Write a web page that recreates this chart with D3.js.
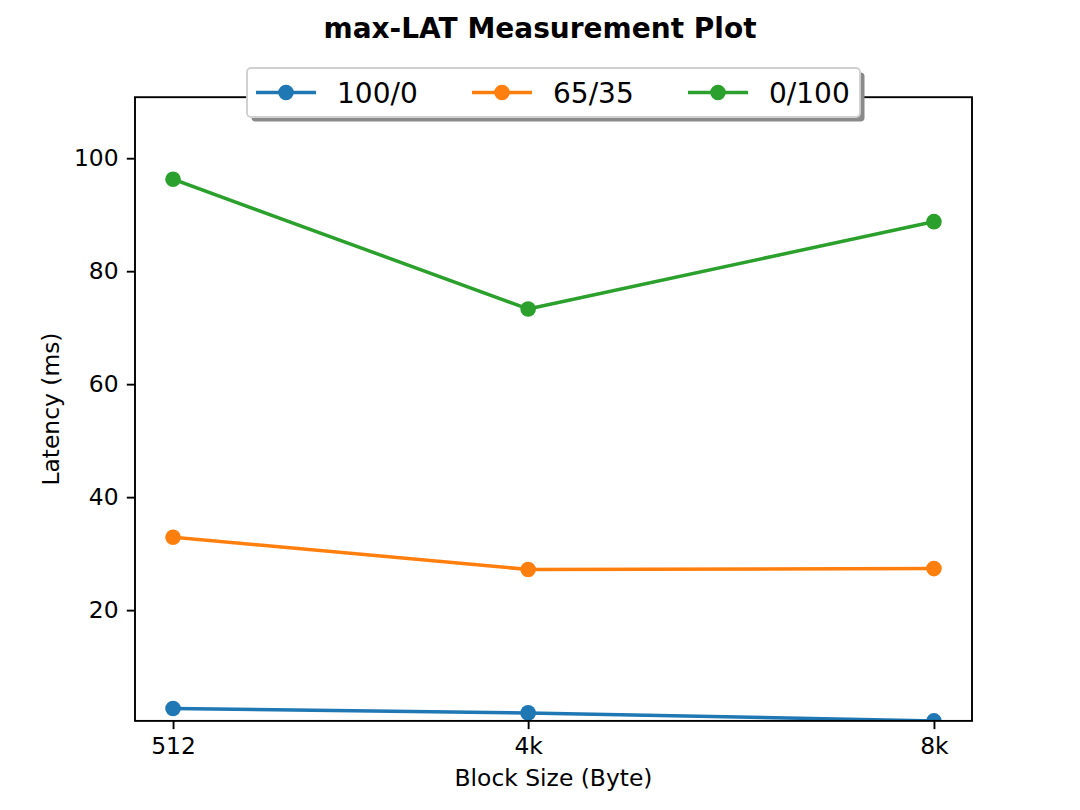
<!DOCTYPE html>
<html>
<head>
<meta charset="utf-8">
<script src="https://cdn.jsdelivr.net/npm/d3@7"></script>
<style>
  html, body { margin: 0; padding: 0; background: #fff; }
  svg { display: block; font-family: "DejaVu Sans", sans-serif; }
</style>
</head>
<body>
<svg id="chart" width="1080" height="810"></svg>
<script>
// ---- data ----
const categories = ["512", "4k", "8k"];
const blockSizes = [512, 4096, 8192];
const read100_0 = [2.58, 1.81, 0.39];
const mix65_35 = [32.9, 27.2, 27.35];
const write0_100 = [96.28, 73.31, 88.77];
const seriesNames = ["100/0", "65/35", "0/100"];
const seriesColors = ["#1f77b4", "#ff7f0e", "#2ca02c"];
const yTicks = [20, 40, 60, 80, 100];
const titleText = "max-LAT Measurement Plot";
const xLabel = "Block Size (Byte)";
const yLabel = "Latency (ms)";

const series = [read100_0, mix65_35, write0_100].map((vals, i) => ({
  name: seriesNames[i], color: seriesColors[i],
  points: vals.map((v, j) => ({ x: blockSizes[j], y: v }))
}));

// ---- layout ----
const W = 1080, H = 810;
const pL = 135, pR = 972, pT = 97.2, pB = 720.9;
const svg = d3.select("#chart");

const xDomainPad = (blockSizes[2] - blockSizes[0]) * 0.05;
const x = d3.scaleLinear()
  .domain([blockSizes[0] - xDomainPad, blockSizes[2] + xDomainPad])
  .range([pL, pR]);
const y = d3.scaleLinear().domain([0.39, 110.8]).range([pB, pT]);

svg.append("defs").append("clipPath").attr("id", "clip")
  .append("rect").attr("x", pL).attr("y", pT)
  .attr("width", pR - pL).attr("height", pB - pT);

const tickFont = 23.4;

// axes
const xAxis = d3.axisBottom(x).tickValues(blockSizes)
  .tickFormat((d, i) => categories[i]).tickSize(8.2).tickPadding(8.2);
const gx = svg.append("g").attr("transform", `translate(0,${pB})`).call(xAxis);
const yAxis = d3.axisLeft(y).tickValues(yTicks).tickSize(8.2).tickPadding(8.2);
const gy = svg.append("g").attr("transform", `translate(${pL},0)`).call(yAxis);
[gx, gy].forEach(g => {
  g.select(".domain").remove();
  g.selectAll(".tick line").attr("stroke", "#000").attr("stroke-width", 1.9);
  g.selectAll(".tick text").attr("fill", "#000")
    .style("font-size", tickFont + "px").style("font-family", "DejaVu Sans");
});

// lines & markers
const line = d3.line().x(d => x(d.x)).y(d => y(d.y));
const plot = svg.append("g").attr("clip-path", "url(#clip)");
series.forEach(s => {
  plot.append("path").datum(s.points)
    .attr("fill", "none").attr("stroke", s.color)
    .attr("stroke-width", 3.5).attr("stroke-linejoin", "round")
    .attr("stroke-linecap", "square")
    .attr("d", line);
  plot.selectAll(null).data(s.points).enter().append("circle")
    .attr("cx", d => x(d.x)).attr("cy", d => y(d.y))
    .attr("r", 7.8).attr("fill", s.color);
});

// frame
svg.append("rect").attr("x", pL).attr("y", pT)
  .attr("width", pR - pL).attr("height", pB - pT)
  .attr("fill", "none").attr("stroke", "#000").attr("stroke-width", 1.9);

// labels
svg.append("text").attr("x", (pL + pR) / 2).attr("y", 786)
  .attr("text-anchor", "middle").style("font-size", tickFont + "px")
  .text(xLabel);
svg.append("text")
  .attr("transform", `translate(59,${(pT + pB) / 2}) rotate(-90)`)
  .attr("text-anchor", "middle").style("font-size", tickFont + "px")
  .text(yLabel);
svg.append("text").attr("x", W / 2).attr("y", 38)
  .attr("text-anchor", "middle").style("font-size", "28px")
  .style("font-weight", "bold").text(titleText);

// legend
const lg = svg.append("g");
const lx = 247, ly = 68, lw = 613, lh = 49;
lg.append("rect").attr("x", lx + 4.5).attr("y", ly + 4.5)
  .attr("width", lw).attr("height", lh).attr("rx", 4)
  .attr("fill", "#8a8a8a");
lg.append("rect").attr("x", lx).attr("y", ly)
  .attr("width", lw).attr("height", lh).attr("rx", 4)
  .attr("fill", "#fff").attr("stroke", "#d0d0d0").attr("stroke-width", 1.9);
const itemX = [256, 472, 688];
series.forEach((s, i) => {
  const cx = itemX[i], cy = ly + lh / 2;
  lg.append("line").attr("x1", cx).attr("x2", cx + 60)
    .attr("y1", cy).attr("y2", cy)
    .attr("stroke", s.color).attr("stroke-width", 3.5);
  lg.append("circle").attr("cx", cx + 30).attr("cy", cy).attr("r", 7.8)
    .attr("fill", s.color);
  lg.append("text").attr("x", cx + 81).attr("y", cy + 10)
    .style("font-size", "28px").text(s.name);
});
</script>
</body>
</html>
